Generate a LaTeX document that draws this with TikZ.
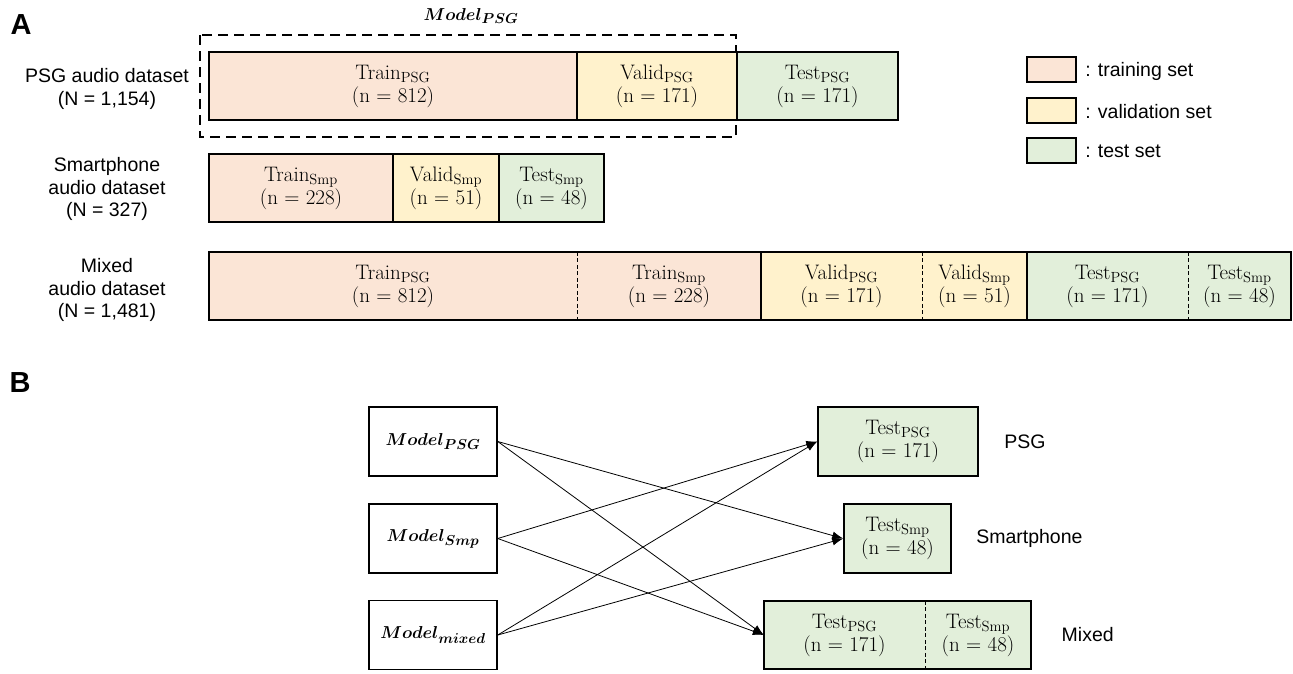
\documentclass[tikz,border=0pt]{standalone}
\usepackage{fontspec}
\usepackage{bm}
\newfontfamily\arialf{Liberation Sans}
\usetikzlibrary{arrows.meta}
\definecolor{trainc}{RGB}{251,229,214}
\definecolor{validc}{RGB}{255,242,204}
\definecolor{testc}{RGB}{226,239,218}
\begin{document}
\begin{tikzpicture}[x=1pt,y=-1pt,
  seg/.style={inner sep=0pt, minimum height=68pt, align=center, font=\fontsize{21}{23}\selectfont},
  frame/.style={draw=black, line width=1.5pt},
  sepdash/.style={draw=black, line width=1.1pt, dash pattern=on 4pt off 2.5pt},
  modelbox/.style={draw=black, line width=1.5pt, minimum width=128pt, minimum height=69pt, inner sep=0pt, font=\fontsize{19}{23}\selectfont},
  sanslab/.style={align=center, font=\arialf\fontsize{19.5}{22.5}\selectfont},
  panel/.style={font=\arialf\bfseries\fontsize{29}{30}\selectfont},
  legbox/.style={draw=black, line width=1.5pt, minimum width=49pt, minimum height=25pt, inner sep=0pt},
  arr/.style={line width=0.8pt, -{Latex[length=11pt,width=8pt]}}
]
\useasboundingbox (0,0) rectangle (1293,673);

% panel letters
\node[panel] (pA) at (21,25) {A};
\node[panel] (pB) at (20,383) {B};

% Model_PSG dashed frame
\draw[line width=1.3pt, dash pattern=on 10pt off 6pt] (200,35) rectangle (736,137);
\node[font=\fontsize{19}{23}\selectfont] (mlab) at (471,16) {$\bm{Model_{PSG}}$};

% Row 1
\node[sanslab] (lab1) at (107,89) {PSG audio dataset\\(N = 1,154)};
\node[seg, fill=trainc, minimum width=368pt] (r1a) at (393,86) {Train$_{\mathrm{PSG}}$\\(n = 812)};
\node[seg, fill=validc, minimum width=160pt] (r1b) at (657,86) {Valid$_{\mathrm{PSG}}$\\(n = 171)};
\node[seg, fill=testc, minimum width=161pt] (r1c) at (817.5,86) {Test$_{\mathrm{PSG}}$\\(n = 171)};
\draw[frame] (r1a.north west) rectangle (r1c.south east);
\draw[frame] (r1a.north east) -- (r1a.south east);
\draw[frame] (r1b.north east) -- (r1b.south east);

% Row 2
\node[sanslab] (lab2) at (107,189) {Smartphone\\audio dataset\\(N = 327)};
\node[seg, fill=trainc, minimum width=184pt] (r2a) at (301,188) {Train$_{\mathrm{Smp}}$\\(n = 228)};
\node[seg, fill=validc, minimum width=106pt] (r2b) at (446,188) {Valid$_{\mathrm{Smp}}$\\(n = 51)};
\node[seg, fill=testc, minimum width=105pt] (r2c) at (551.5,188) {Test$_{\mathrm{Smp}}$\\(n = 48)};
\draw[frame] (r2a.north west) rectangle (r2c.south east);
\draw[frame] (r2a.north east) -- (r2a.south east);
\draw[frame] (r2b.north east) -- (r2b.south east);

% Row 3
\node[sanslab] (lab3) at (107,290) {Mixed\\audio dataset\\(N = 1,481)};
\node[seg, fill=trainc, minimum width=368pt] (r3a) at (393,286) {Train$_{\mathrm{PSG}}$\\(n = 812)};
\node[seg, fill=trainc, minimum width=184pt] (r3b) at (669,286) {Train$_{\mathrm{Smp}}$\\(n = 228)};
\node[seg, fill=validc, minimum width=161pt] (r3c) at (841.5,286) {Valid$_{\mathrm{PSG}}$\\(n = 171)};
\node[seg, fill=validc, minimum width=105pt] (r3d) at (974.5,286) {Valid$_{\mathrm{Smp}}$\\(n = 51)};
\node[seg, fill=testc, minimum width=161pt] (r3e) at (1107.5,286) {Test$_{\mathrm{PSG}}$\\(n = 171)};
\node[seg, fill=testc, minimum width=103pt] (r3f) at (1239.5,286) {Test$_{\mathrm{Smp}}$\\(n = 48)};
\draw[frame] (r3a.north west) rectangle (r3f.south east);
\draw[sepdash] (r3a.north east) -- (r3a.south east);
\draw[frame] (r3b.north east) -- (r3b.south east);
\draw[sepdash] (r3c.north east) -- (r3c.south east);
\draw[frame] (r3d.north east) -- (r3d.south east);
\draw[sepdash] (r3e.north east) -- (r3e.south east);

% Legend
\node[legbox, fill=trainc] (lg1) at (1051.5,69.5) {};
\node[legbox, fill=validc] (lg2) at (1051.5,110.5) {};
\node[legbox, fill=testc] (lg3) at (1051.5,150.5) {};
\node[sanslab, anchor=west] (lt1) at ([xshift=5pt,yshift=-1.5pt]lg1.east) {: training set};
\node[sanslab, anchor=west] (lt2) at ([xshift=5pt,yshift=-1pt]lg2.east) {: validation set};
\node[sanslab, anchor=west] (lt3) at ([xshift=5pt,yshift=-1pt]lg3.east) {: test set};

% Panel B
\node[modelbox] (m1) at (433,441.5) {$\bm{Model_{PSG}}$};
\node[modelbox] (m2) at (433,538.5) {$\bm{Model_{Smp}}$};
\node[modelbox] (m3) at (433,635) {$\bm{Model_{mixed}}$};

\node[seg, draw=black, line width=1.5pt, fill=testc, minimum width=160pt, minimum height=69pt] (t1) at (898,441.5) {Test$_{\mathrm{PSG}}$\\(n = 171)};
\node[seg, draw=black, line width=1.5pt, fill=testc, minimum width=107pt, minimum height=69pt] (t2) at (897.5,538.5) {Test$_{\mathrm{Smp}}$\\(n = 48)};
\node[seg, fill=testc, minimum width=161pt, minimum height=68pt] (t3a) at (844.5,635) {Test$_{\mathrm{PSG}}$\\(n = 171)};
\node[seg, fill=testc, minimum width=106pt, minimum height=68pt] (t3b) at (978,635) {Test$_{\mathrm{Smp}}$\\(n = 48)};
\draw[frame] (t3a.north west) rectangle (t3b.south east);
\draw[sepdash] (t3a.north east) -- (t3a.south east);

\node[sanslab, anchor=west] (s1) at ([xshift=22pt]t1.east) {PSG};
\node[sanslab, anchor=west] (s2) at ([xshift=21pt]t2.east) {Smartphone};
\node[sanslab, anchor=west] (s3) at ([xshift=27pt]t3b.east) {Mixed};

\draw[arr] (m1.east) -- (t2.west);
\draw[arr] (m1.east) -- (t3a.west);
\draw[arr] (m2.east) -- (t1.west);
\draw[arr] (m2.east) -- (t3a.west);
\draw[arr] (m3.east) -- (t1.west);
\draw[arr] (m3.east) -- (t2.west);
\end{tikzpicture}
\end{document}
